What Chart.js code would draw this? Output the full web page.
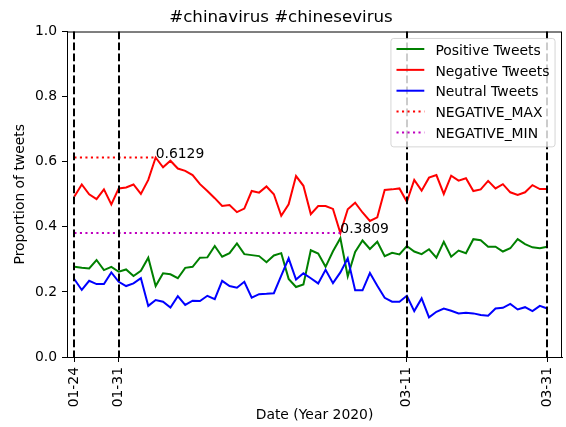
<!DOCTYPE html>
<html>
<head>
<meta charset="utf-8">
<script src="https://cdn.jsdelivr.net/npm/chart.js@4.4.1/dist/chart.umd.min.js"></script>
<style>
  body { margin: 0; background: #fff; }
  #wrap { width: 566px; height: 427px; }
</style>
</head>
<body>
<div id="wrap"><canvas id="myChart" width="566" height="427"></canvas></div>
<script>
// one entry per day in the data (a few days are missing in the source)
const dates = [
  "01-24", "01-25", "01-26", "01-27", "01-29", "01-30", "01-31",
  "02-01", "02-02", "02-03", "02-04", "02-05", "02-06", "02-07", "02-08", "02-09", "02-10",
  "02-11", "02-12", "02-13", "02-14", "02-15", "02-17", "02-18", "02-19", "02-20",
  "02-21", "02-22", "02-23", "02-24", "02-25", "02-26", "02-27", "02-28", "02-29",
  "03-01", "03-02", "03-03", "03-04", "03-05", "03-06", "03-07", "03-08", "03-09", "03-10",
  "03-11", "03-12", "03-13", "03-14", "03-15", "03-16", "03-17", "03-18", "03-19", "03-20",
  "03-21", "03-23", "03-24", "03-25", "03-26", "03-27", "03-28", "03-29", "03-30", "03-31"
];
const tickDates = ["01-24", "01-31", "03-11", "03-31"];

const positive = [
  0.277, 0.274, 0.272, 0.298, 0.267, 0.277, 0.262, 0.269, 0.249, 0.265,
  0.305, 0.218, 0.257, 0.254, 0.242, 0.274, 0.277, 0.305, 0.306, 0.341,
  0.308, 0.319, 0.349, 0.316, 0.313, 0.310, 0.291, 0.312, 0.319, 0.240,
  0.215, 0.223, 0.328, 0.318, 0.277, 0.325, 0.365, 0.248, 0.323, 0.358,
  0.332, 0.354, 0.310, 0.320, 0.315, 0.341, 0.324, 0.316, 0.331, 0.305,
  0.354, 0.308, 0.327, 0.319, 0.362, 0.359, 0.339, 0.339, 0.324, 0.334,
  0.362, 0.347, 0.337, 0.334, 0.339
];
const negative = [
  0.493, 0.530, 0.500, 0.485, 0.515, 0.469, 0.518, 0.521, 0.530, 0.501,
  0.544, 0.6129, 0.583, 0.603, 0.579, 0.572, 0.559, 0.531, 0.510, 0.488,
  0.464, 0.467, 0.445, 0.456, 0.510, 0.505, 0.524, 0.500, 0.434, 0.469,
  0.556, 0.526, 0.439, 0.464, 0.464, 0.455, 0.3809, 0.454, 0.474, 0.444,
  0.418, 0.429, 0.513, 0.515, 0.518, 0.477, 0.544, 0.511, 0.551, 0.559,
  0.501, 0.557, 0.542, 0.549, 0.510, 0.515, 0.541, 0.518, 0.531, 0.506,
  0.498, 0.506, 0.528, 0.516, 0.516
];
const neutral = [
  0.239, 0.206, 0.234, 0.224, 0.224, 0.260, 0.231, 0.218, 0.226, 0.242,
  0.157, 0.175, 0.170, 0.152, 0.187, 0.160, 0.173, 0.172, 0.188, 0.178,
  0.234, 0.218, 0.213, 0.231, 0.182, 0.193, 0.194, 0.196, 0.250, 0.303,
  0.238, 0.257, 0.242, 0.226, 0.268, 0.227, 0.260, 0.303, 0.205, 0.205,
  0.258, 0.219, 0.182, 0.170, 0.170, 0.188, 0.141, 0.180, 0.122, 0.139,
  0.149, 0.142, 0.134, 0.136, 0.134, 0.129, 0.127, 0.149, 0.151, 0.163,
  0.146, 0.153, 0.141, 0.157, 0.149
];

const FONT = "DejaVu Sans";
const negMax = Math.max(...negative);
const negMin = Math.min(...negative);
const maxIdx = negative.indexOf(negMax);
const minIdx = negative.indexOf(negMin);
const tickIdx = tickDates.map((d) => dates.indexOf(d));

const toPoints = (arr) => arr.map((v, i) => ({ x: i, y: v }));

// vertical dashed lines, value labels, box frame and matplotlib-like legend
const decorations = {
  id: "decorations",
  afterDatasetsDraw: (chart) => {
    const ctx = chart.ctx;
    const { top, bottom, left, right } = chart.chartArea;
    const xs = chart.scales.x;
    const ys = chart.scales.y;

    ctx.save();
    ctx.strokeStyle = "#000";
    ctx.lineWidth = 2;
    ctx.setLineDash([7.7, 3.3]);
    tickIdx.forEach((i) => {
      const px = Math.round(xs.getPixelForValue(i));
      ctx.beginPath();
      ctx.moveTo(px, top);
      ctx.lineTo(px, bottom);
      ctx.stroke();
    });
    ctx.setLineDash([]);

    ctx.fillStyle = "#000";
    ctx.font = "13.9px " + FONT;
    ctx.textAlign = "left";
    ctx.textBaseline = "alphabetic";
    ctx.fillText(negMax.toFixed(4), xs.getPixelForValue(maxIdx), ys.getPixelForValue(negMax));
    ctx.fillText(negMin.toFixed(4), xs.getPixelForValue(minIdx), ys.getPixelForValue(negMin));

    // top and right spines
    ctx.lineWidth = 1;
    ctx.strokeStyle = "#000";
    ctx.strokeRect(left + 0.5, top + 0.5, right - left - 1, bottom - top);

    // legend
    const ds = chart.data.datasets;
    const fs = 13.9;
    let textW = 0;
    ds.forEach((d) => { textW = Math.max(textW, ctx.measureText(d.label).width); });
    const pad = 0.4 * fs, handleLen = 2 * fs, handlePad = 0.8 * fs, rowH = fs + 0.5 * fs;
    const boxW = pad * 2 + handleLen + handlePad + textW;
    const boxH = pad * 2 + ds.length * fs + (ds.length - 1) * 0.5 * fs;
    const bx = right - 0.5 * fs - boxW;
    const by = top + 0.5 * fs;
    const r = 0.2 * fs;
    ctx.beginPath();
    ctx.moveTo(bx + r, by);
    ctx.arcTo(bx + boxW, by, bx + boxW, by + boxH, r);
    ctx.arcTo(bx + boxW, by + boxH, bx, by + boxH, r);
    ctx.arcTo(bx, by + boxH, bx, by, r);
    ctx.arcTo(bx, by, bx + boxW, by, r);
    ctx.closePath();
    ctx.fillStyle = "rgba(255,255,255,0.8)";
    ctx.fill();
    ctx.strokeStyle = "rgba(204,204,204,0.8)";
    ctx.lineWidth = 1;
    ctx.stroke();

    ds.forEach((d, k) => {
      const rowTop = by + pad + k * rowH;
      const hy = rowTop + 5;
      ctx.strokeStyle = d.borderColor;
      ctx.lineWidth = 2;
      ctx.setLineDash(d.borderDash || []);
      ctx.beginPath();
      ctx.moveTo(bx + pad, hy);
      ctx.lineTo(bx + pad + handleLen, hy);
      ctx.stroke();
      ctx.setLineDash([]);
      ctx.fillStyle = "#000";
      ctx.fillText(d.label, bx + pad + handleLen + handlePad, rowTop + 10.7);
    });
    ctx.restore();
  },
};

const ctx = document.getElementById("myChart");

new Chart(ctx, {
  type: "line",
  plugins: [decorations],
  data: {
    datasets: [
      { label: "Positive Tweets", data: toPoints(positive), borderColor: "#008000", order: 5 },
      { label: "Negative Tweets", data: toPoints(negative), borderColor: "#ff0000", order: 4 },
      { label: "Neutral Tweets", data: toPoints(neutral), borderColor: "#0000ff", order: 3 },
      {
        label: "NEGATIVE_MAX",
        data: [{ x: 0, y: negMax }, { x: maxIdx, y: negMax }],
        borderColor: "#ff0000",
        borderDash: [2.1, 3.4],
        order: 2,
      },
      {
        label: "NEGATIVE_MIN",
        data: [{ x: 0, y: negMin }, { x: minIdx, y: negMin }],
        borderColor: "#bf00bf",
        borderDash: [2.1, 3.4],
        order: 1,
      },
    ],
  },
  options: {
    responsive: false,
    animation: false,
    devicePixelRatio: 1,
    datasets: {
      line: { borderWidth: 2, pointRadius: 0, tension: 0, fill: false },
    },
    layout: { autoPadding: false, padding: { left: 0, right: 4, top: 0, bottom: 0 } },
    plugins: {
      legend: { display: false },
      tooltip: { enabled: false },
      title: {
        display: true,
        text: "#chinavirus #chinesevirus",
        color: "#000",
        font: { family: FONT, size: 16.67, weight: "normal" },
        padding: { top: 7.5, bottom: 4 },
      },
    },
    scales: {
      x: {
        type: "linear",
        min: -1,
        max: 66,
        afterBuildTicks: (scale) => {
          scale.ticks = tickIdx.map((v) => ({ value: v }));
        },
        afterFit: (scale) => {
          scale.height = 70;
          scale.paddingLeft = 0;
          scale.paddingRight = 0;
        },
        ticks: {
          autoSkip: false,
          minRotation: 90,
          maxRotation: 90,
          padding: 5,
          color: "#000",
          font: { family: FONT, size: 13.9 },
          callback: (v) => dates[v],
        },
        grid: { drawOnChartArea: false, drawTicks: true, tickLength: 5, color: "#000" },
        border: { display: true, color: "#000" },
        title: {
          display: true,
          text: "Date (Year 2020)",
          color: "#000",
          font: { family: FONT, size: 13.9 },
          padding: { top: 0, bottom: 3 },
        },
      },
      y: {
        min: 0,
        max: 1,
        afterFit: (scale) => {
          scale.width = 67;
          scale.paddingTop = 0;
          scale.paddingBottom = 0;
        },
        ticks: {
          stepSize: 0.2,
          padding: 5,
          color: "#000",
          font: { family: FONT, size: 13.9 },
          callback: (v) => v.toFixed(1),
        },
        grid: { drawOnChartArea: false, drawTicks: true, tickLength: 5, color: "#000" },
        border: { display: true, color: "#000" },
        title: {
          display: true,
          text: "Proportion of tweets",
          color: "#000",
          font: { family: FONT, size: 13.9 },
          padding: { top: 12, bottom: 0 },
        },
      },
    },
  },
});
</script>
</body>
</html>
